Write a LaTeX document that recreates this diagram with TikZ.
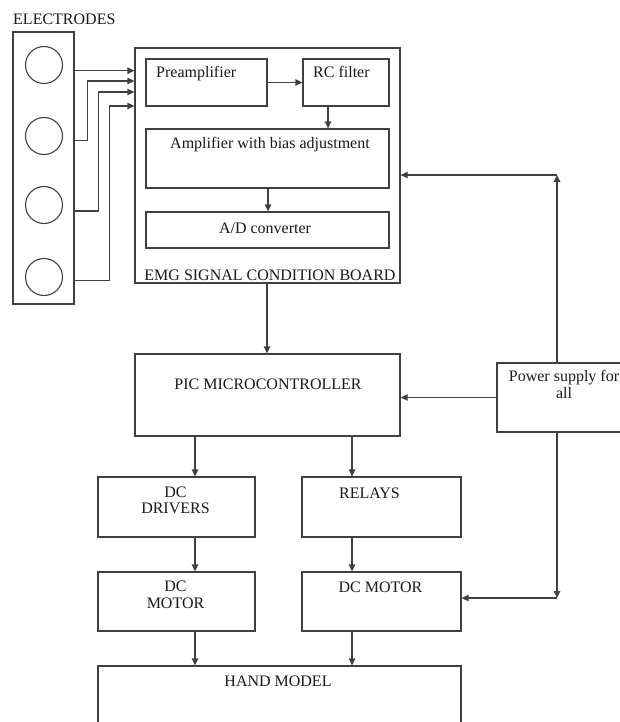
\documentclass[tikz,border=0pt]{standalone}
\usepackage{fontspec}
\setmainfont{Liberation Serif}
\usetikzlibrary{arrows.meta,calc}
\begin{document}
\begin{tikzpicture}[x=1pt,y=-1pt,
  box/.style={draw=black!75, line width=1.3pt, inner sep=0pt, rectangle},
  elc/.style={draw=black!75, line width=1.1pt, inner sep=0pt, circle, minimum size=37pt},
  txt/.style={inner sep=0pt, anchor=base, text=black!90, font=\fontsize{16}{18}\selectfont},
  txtw/.style={txt, anchor=base west},
  arr/.style={draw=black!75, line width=1.3pt, -{Triangle[length=7pt,width=6.5pt]}},
]
\clip (0,0) rectangle (620,722);
\fill[white] (0,0) rectangle (620,722);

% boxes
\node[box, minimum width=61pt, minimum height=272pt] (elec) at (43.5,168) {};
\node[box, minimum width=265pt, minimum height=235pt] (board) at (267.5,165.5) {};
\node[box, minimum width=121pt, minimum height=47pt] (pre) at (206.5,82.5) {};
\node[box, minimum width=86pt, minimum height=47pt] (rc) at (346,82.5) {};
\node[box, minimum width=243pt, minimum height=59pt] (amp) at (267.5,158.5) {};
\node[box, minimum width=243pt, minimum height=36pt] (ad) at (267.5,230) {};
\node[box, minimum width=265pt, minimum height=82pt] (pic) at (267.5,395) {};
\node[box, minimum width=153pt, minimum height=69pt] (power) at (573.5,397.5) {};
\node[box, minimum width=157pt, minimum height=60pt] (drv) at (176.5,507) {};
\node[box, minimum width=159pt, minimum height=60pt] (rel) at (381.5,507) {};
\node[box, minimum width=157pt, minimum height=59pt] (mot1) at (176.5,601.5) {};
\node[box, minimum width=159pt, minimum height=59pt] (mot2) at (381.5,601.5) {};
\node[box, minimum width=363pt, minimum height=94pt] (hand) at (279.5,713) {};

% electrodes
\node[elc] (e1) at (44,65) {};
\node[elc] (e2) at (44,136) {};
\node[elc] (e3) at (44,205) {};
\node[elc] (e4) at (44,277) {};

% texts
\node[txtw] (tel) at (13,25) {ELECTRODES};
\node[txtw] (tpre) at (156,78) {Preamplifier};
\node[txtw] (trc) at (313,78) {RC filter};
\node[txt] (tamp) at (270,149) {Amplifier with bias adjustment};
\node[txt] (tad) at (265,233) {A/D converter};
\node[txt] (tboard) at (270,280) {EMG SIGNAL CONDITION BOARD};
\node[txt] (tpic) at (268,389.5) {PIC MICROCONTROLLER};
\node[txt] (tpow1) at (564,381.5) {Power supply for};
\node[txt] (tpow2) at (564,398) {all};
\node[txt] (tdrv1) at (175.5,497) {DC};
\node[txt] (tdrv2) at (175.5,513) {DRIVERS};
\node[txt] (trel) at (369.5,498) {RELAYS};
\node[txt] (tm1a) at (175.5,591) {DC};
\node[txt] (tm1b) at (175.5,608) {MOTOR};
\node[txt] (tm2) at (380.5,592.5) {DC MOTOR};
\node[txt] (thand) at (278,686.5) {HAND MODEL};

% electrode wires
\draw[arr] (elec.east |- 0,70.7) -- (board.west |- 0,70.7);
\draw[arr] (elec.east |- 0,140.7) -| (87.3,81) -- (board.west |- 0,81);
\draw[arr] (elec.east |- 0,211) -| (98.3,92) -- (board.west |- 0,92);
\draw[arr] (elec.east |- 0,280.7) -| (109.3,106) -- (board.west |- 0,106);

% board internals
\draw[arr] (pre.east) -- (rc.west);
\draw[arr] (rc.south -| 328,0) -- (amp.north -| 328,0);
\draw[arr] (amp.south -| 268,0) -- (ad.north -| 268,0);

% board to pic
\draw[arr] (board.south -| 267,0) -- (pic.north -| 267,0);

% power supply
\coordinate (ctop) at (557,175);
\coordinate (cbot) at (557,598);
\draw[arr] (power.north -| ctop) -- (ctop);
\draw[arr] (ctop) -- (board.east |- ctop);
\draw[arr] (power.west) -- (power.west -| pic.east);
\draw[arr] (power.south -| cbot) -- (cbot);
\draw[arr] (cbot) -- (mot2.east |- cbot);

% pic to drivers / relays
\draw[arr] (pic.south -| 195,0) -- (drv.north -| 195,0);
\draw[arr] (pic.south -| 352,0) -- (rel.north -| 352,0);
\draw[arr] (drv.south -| 195,0) -- (mot1.north -| 195,0);
\draw[arr] (rel.south -| 352,0) -- (mot2.north -| 352,0);
\draw[arr] (mot1.south -| 195,0) -- (hand.north -| 195,0);
\draw[arr] (mot2.south -| 352,0) -- (hand.north -| 352,0);
\end{tikzpicture}
\end{document}
